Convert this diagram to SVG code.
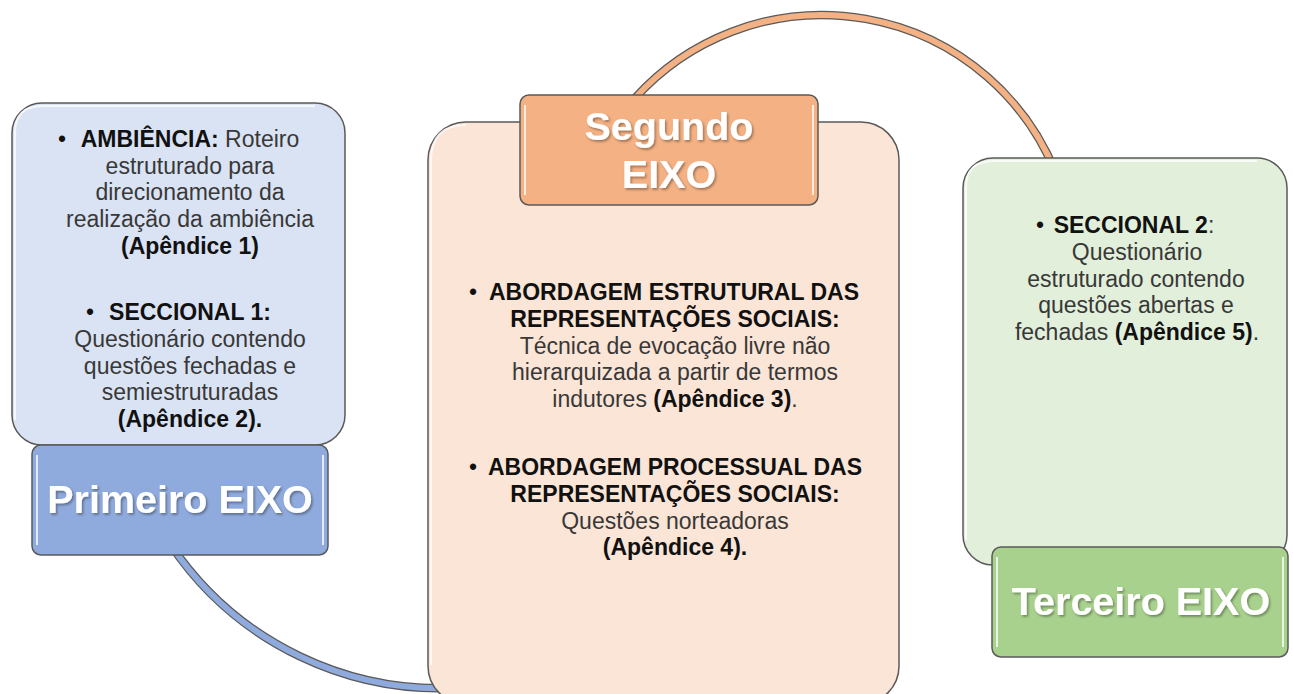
<svg xmlns="http://www.w3.org/2000/svg" width="1293" height="694" viewBox="0 0 1293 694">
<defs>
<style>
.box{stroke:#5a5a5a;stroke-width:1.5}
.gloss{fill:none;stroke:#ffffff;stroke-opacity:0.75;stroke-width:2}
.lbl{stroke:#5a5a5a;stroke-width:1.5}
.lt{font-family:"Liberation Sans",Arial,sans-serif;font-weight:bold;font-size:39.5px;fill:#ffffff;text-anchor:middle;filter:url(#sh)}
.t{font-family:"Liberation Sans",Arial,sans-serif;font-size:23px;fill:#383838;text-anchor:middle}
.b{font-weight:bold;fill:#111111}
.bul{font-family:"Liberation Sans",Arial,sans-serif;font-size:23px;fill:#111111;text-anchor:middle}
.arcO{fill:none;stroke:#5a5a5a;stroke-width:8.5}
</style>
<filter id="sh" x="-10%" y="-20%" width="130%" height="150%">
<feDropShadow dx="1.5" dy="1.8" stdDeviation="1" flood-color="#000000" flood-opacity="0.35"/>
</filter>
</defs>

<g id="connectors">
<path class="arcO" d="M 170.6 544.7 A 325 325 0 0 0 468 687"/>
<path d="M 170.6 544.7 A 325 325 0 0 0 468 687" fill="none" stroke="#8faadc" stroke-width="6"/>
<path class="arcO" d="M 634.7 98.4 A 252 252 0 0 1 1055.6 172.6"/>
<path d="M 634.7 98.4 A 252 252 0 0 1 1055.6 172.6" fill="none" stroke="#f4b183" stroke-width="6"/>
</g>

<g id="box1">
<rect class="box" x="12" y="103" width="333" height="342" rx="30" fill="#dae3f3"/>
<path class="gloss" d="M 15 420 L 15 133 Q 15 106 42 106 L 315 106"/>
<text class="bul" x="62" y="147">•</text>
<text class="t" x="190" y="147"><tspan class="b">AMBIÊNCIA:</tspan> Roteiro</text>
<text class="t" x="190" y="173.5">estruturado para</text>
<text class="t" x="190" y="200">direcionamento da</text>
<text class="t" x="190" y="227">realização da ambiência</text>
<text class="t b" x="190" y="253.5">(Apêndice 1)</text>
<text class="bul" x="90" y="320">•</text>
<text class="t b" x="190" y="320">SECCIONAL 1:</text>
<text class="t" x="190" y="347">Questionário contendo</text>
<text class="t" x="190" y="373.5">questões fechadas e</text>
<text class="t" x="190" y="400">semiestruturadas</text>
<text class="t b" x="190" y="427">(Apêndice 2).</text>
</g>

<g id="label1">
<rect class="lbl" x="32" y="445" width="296" height="110" rx="9" fill="#8faadc"/>
<line class="gloss" x1="37" y1="455" x2="37" y2="545"/>
<line class="gloss" x1="323" y1="455" x2="323" y2="545"/>
<text class="lt" x="180" y="513" font-size="40">Primeiro EIXO</text>
</g>

<g id="box2">
<rect class="box" x="428" y="122" width="471" height="582" rx="38" fill="#fbe5d6"/>
<path class="gloss" d="M 431 665 L 431 160 Q 431 125 466 125"/>
<text class="bul" x="473" y="300">•</text>
<text class="t b" x="674" y="300">ABORDAGEM ESTRUTURAL DAS</text>
<text class="t b" x="675" y="327">REPRESENTAÇÕES SOCIAIS:</text>
<text class="t" x="675" y="353.5">Técnica de evocação livre não</text>
<text class="t" x="675" y="380">hierarquizada a partir de termos</text>
<text class="t" x="675" y="407">indutores <tspan class="b">(Apêndice 3)</tspan>.</text>
<text class="bul" x="473" y="475">•</text>
<text class="t b" x="675" y="475">ABORDAGEM PROCESSUAL DAS</text>
<text class="t b" x="675" y="502">REPRESENTAÇÕES SOCIAIS:</text>
<text class="t" x="675" y="528.5">Questões norteadoras</text>
<text class="t b" x="675" y="555">(Apêndice 4).</text>
</g>

<g id="label2">
<rect class="lbl" x="520" y="95" width="298" height="110" rx="9" fill="#f4b183"/>
<line class="gloss" x1="525" y1="105" x2="525" y2="195"/>
<line class="gloss" x1="813" y1="105" x2="813" y2="195"/>
<text class="lt" x="669" y="140">Segundo</text>
<text class="lt" x="669" y="188">EIXO</text>
</g>

<g id="box3">
<rect class="box" x="963" y="158" width="324" height="407" rx="30" fill="#e2efda"/>
<path class="gloss" d="M 966 540 L 966 188 Q 966 161 993 161 L 1257 161"/>
<text class="bul" x="1040" y="233">•</text>
<text class="t" x="1134" y="233"><tspan class="b">SECCIONAL 2</tspan>:</text>
<text class="t" x="1137" y="260">Questionário</text>
<text class="t" x="1136" y="286.5">estruturado contendo</text>
<text class="t" x="1136" y="313">questões abertas e</text>
<text class="t" x="1137" y="340">fechadas <tspan class="b">(Apêndice 5)</tspan>.</text>
</g>

<g id="label3">
<rect class="lbl" x="992" y="547" width="296" height="110" rx="9" fill="#a9d18e"/>
<line class="gloss" x1="997" y1="557" x2="997" y2="647"/>
<line class="gloss" x1="1283" y1="557" x2="1283" y2="647"/>
<text class="lt" x="1141" y="615">Terceiro EIXO</text>
</g>
</svg>
